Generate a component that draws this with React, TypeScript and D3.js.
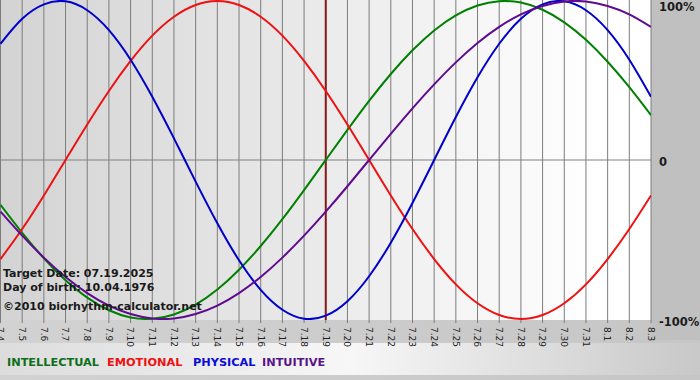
import React from "react";
import * as d3 from "d3";

const dayLabels = ["7.4","7.5","7.6","7.7","7.8","7.9","7.10","7.11","7.12","7.13","7.14","7.15","7.16","7.17","7.18","7.19","7.20","7.21","7.22","7.23","7.24","7.25","7.26","7.27","7.28","7.29","7.30","7.31","8.1","8.2","8.3"];

const physical = [0.731,0.888,0.979,0.998,0.942,0.817,0.631,0.398,0.136,-0.136,-0.398,-0.631,-0.817,-0.942,-0.998,-0.979,-0.888,-0.731,-0.52,-0.27,0,0.27,0.52,0.731,0.888,0.979,0.998,0.942,0.817,0.631,0.398];
const emotional = [-0.623,-0.434,-0.223,0,0.223,0.434,0.623,0.782,0.901,0.975,1,0.975,0.901,0.782,0.623,0.434,0.223,0,-0.223,-0.434,-0.623,-0.782,-0.901,-0.975,-1,-0.975,-0.901,-0.782,-0.623,-0.434,-0.223];
const intellectual = [-0.282,-0.458,-0.618,-0.756,-0.866,-0.945,-0.99,-0.999,-0.972,-0.91,-0.815,-0.69,-0.541,-0.372,-0.189,0,0.189,0.372,0.541,0.69,0.815,0.91,0.972,0.999,0.99,0.945,0.866,0.756,0.618,0.458,0.282];
const intuitive = [-0.325,-0.476,-0.614,-0.736,-0.837,-0.916,-0.969,-0.997,-0.997,-0.969,-0.916,-0.837,-0.736,-0.614,-0.476,-0.325,-0.165,0,0.165,0.325,0.476,0.614,0.736,0.837,0.916,0.969,0.997,0.997,0.969,0.916,0.837];

const targetIndex = 15;
const yTickLabels = ["100%", "0", "-100%"];
const yTickValues = [1, 0, -1];

const series = [
  { name: "INTELLECTUAL", values: intellectual, color: "#008000", legendColor: "#0f6e1a" },
  { name: "EMOTIONAL", values: emotional, color: "#ee1111", legendColor: "#ee1111" },
  { name: "PHYSICAL", values: physical, color: "#0000cc", legendColor: "#0c0cd6" },
  { name: "INTUITIVE", values: intuitive, color: "#600a90", legendColor: "#5a1488" },
];

const infoLines = [
  "Target Date: 07.19.2025",
  "Day of birth: 10.04.1976",
  "\u00A92010 biorhythm-calculator.net",
];

export default function App() {
  const W = 700, H = 380;
  const plotRight = 651, plotBottom = 320;
  const x = d3.scaleLinear().domain([0, dayLabels.length - 1]).range([0.5, plotRight]);
  const y = d3.scaleLinear().domain([-1, 1]).range([319, 1]);
  const line = d3.line<number>().x((_, i) => x(i)).y(d => y(d)).curve(d3.curveNatural);
  const font = "'DejaVu Sans', Verdana, sans-serif";
  const legendX = [7, 107, 193, 262];
  const yLabelOffset = [10, 6, 7];

  return (
    <svg width={W} height={H} style={{ position: "absolute", left: 0, top: 0 }} xmlns="http://www.w3.org/2000/svg">
      <defs>
        <linearGradient id="plotBg" x1="0" x2="1" y1="0" y2="0">
          <stop offset="0" stopColor="#d3d3d3" />
          <stop offset="0.92" stopColor="#ffffff" />
          <stop offset="1" stopColor="#ffffff" />
        </linearGradient>
        <linearGradient id="bottomBg" x1="0" x2="1" y1="0" y2="0">
          <stop offset="0" stopColor="#d2d2d2" />
          <stop offset="1" stopColor="#c6c6c6" />
        </linearGradient>
        <linearGradient id="legendBg" x1="0" x2="1" y1="0" y2="0">
          <stop offset="0" stopColor="#dcdcdc" />
          <stop offset="0.5" stopColor="#f7f7f7" />
          <stop offset="1" stopColor="#c8c8c8" />
        </linearGradient>
        <clipPath id="plotClip">
          <rect x={0} y={0} width={plotRight} height={plotBottom} />
        </clipPath>
      </defs>
      <rect x={0} y={0} width={W} height={H} fill="url(#bottomBg)" />
      <rect x={plotRight} y={0} width={W - plotRight} height={340} fill="#c0c0c0" />
      <rect x={0} y={343} width={700} height={32} fill="url(#legendBg)" />
      <rect x={0} y={0} width={plotRight} height={plotBottom} fill="url(#plotBg)" />

      {dayLabels.map((d, i) => (
        <line key={"g" + i} x1={x(i)} x2={x(i)} y1={0} y2={323} stroke="#7c7c7c" strokeWidth={1} />
      ))}
      <line x1={0} x2={plotRight} y1={y(0)} y2={y(0)} stroke="#808080" strokeWidth={1} />
      <line x1={x(targetIndex)} x2={x(targetIndex)} y1={0} y2={plotBottom} stroke="#8a1a1a" strokeWidth={2} />

      <g clipPath="url(#plotClip)">
        {series.map(s => (
          <path key={s.name} d={line(s.values) || ""} fill="none" stroke={s.color} strokeWidth={2} />
        ))}
      </g>

      {dayLabels.map((d, i) => (
        <text key={"t" + i} transform={`translate(${x(i)},327) rotate(90)`} dy="0.35em" fontFamily={font} fontSize={9} fill="#222">{d}</text>
      ))}

      {yTickLabels.map((t, i) => (
        <text key={t} x={659} y={Math.max(y(yTickValues[i]) + yLabelOffset[i], 0)} fontFamily={font} fontWeight="bold" fontSize={11.5} fill="#1a1a1a">{t}</text>
      ))}

      {infoLines.map((t, i) => (
        <text key={t} x={3} y={[277, 291, 310][i]} fontFamily={font} fontWeight="bold" fontSize={11} fill="#1a1a1a">{t}</text>
      ))}

      {series.map((s, i) => (
        <text key={"l" + s.name} x={legendX[i]} y={366} fontFamily={font} fontWeight="bold" fontSize={11.3} fill={s.legendColor}>{s.name}</text>
      ))}
    </svg>
  );
}
